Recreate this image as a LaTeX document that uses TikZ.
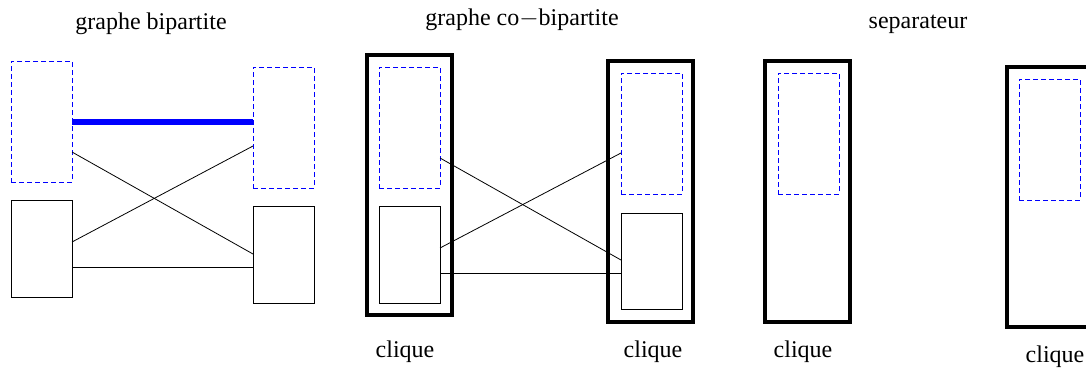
\documentclass[tikz,border=0pt]{standalone}
\usepackage{fontspec}
\setmainfont{Liberation Serif}
\begin{document}
\begin{tikzpicture}[x=1pt,y=-1pt,
  solidbox/.style={draw=black, line width=0.9pt, inner sep=0pt, outer sep=0pt, minimum width=61pt, anchor=north west},
  dashbox/.style={draw=blue, line width=0.9pt, dash pattern=on 5pt off 3pt, inner sep=0pt, outer sep=0pt, minimum width=61pt, minimum height=121pt, anchor=north west},
  cliquebox/.style={draw=black, line width=4pt, inner sep=0pt, outer sep=0pt, minimum width=85pt, anchor=north west},
  edge/.style={draw=black, line width=0.8pt},
  lab/.style={font=\fontsize{24}{26}\selectfont, inner sep=0pt},
]
\useasboundingbox (0,0) rectangle (1086,370);

% titles
\node[lab] (t1) at (151,24) {graphe bipartite};
\node[lab] (t2) at (522,20) {graphe co$-$bipartite};
\node[lab] (t3) at (918,24) {separateur};

% bipartite graph
\node[dashbox] (bA) at (11,61) {};
\node[dashbox] (bB) at (253,67) {};
\node[solidbox, minimum height=97pt] (bC) at (11,200) {};
\node[solidbox, minimum height=97pt] (bD) at (253,206) {};
\draw[blue, line width=6pt] ([yshift=-61pt]bA.north east) -- ([yshift=-55pt]bB.north west);
\draw[edge] ([yshift=-91pt]bA.north east) -- ([yshift=-48pt]bD.north west);
\draw[edge] ([yshift=-42pt]bC.north east) -- ([yshift=-79pt]bB.north west);
\draw[edge] ([yshift=-67pt]bC.north east) -- ([yshift=-61pt]bD.north west);

% co-bipartite graph
\node[cliquebox, minimum height=260pt] (cK1) at (367,55) {};
\node[cliquebox, minimum height=261pt] (cK2) at (608,61) {};
\node[dashbox] (cA) at (379,67) {};
\node[dashbox] (cB) at (621,73) {};
\node[solidbox, minimum height=97pt] (cC) at (379,206) {};
\node[solidbox, minimum height=96pt] (cD) at (621,213) {};
\draw[edge] ([yshift=-91pt]cA.north east) -- ([yshift=-47pt]cD.north west);
\draw[edge] ([yshift=-42pt]cC.north east) -- ([yshift=-80pt]cB.north west);
\draw[edge] ([yshift=-67pt]cC.north east) -- ([yshift=-60pt]cD.north west);
\node[lab] (q1) at (405,352) {clique};
\node[lab] (q2) at (653,352) {clique};

% separateur
\node[cliquebox, minimum height=261pt] (sK1) at (765,61) {};
\node[dashbox] (sA) at (778,73) {};
\node[cliquebox, minimum height=260pt] (sK2) at (1007,67) {};
\node[dashbox] (sB) at (1019,79) {};
\node[lab] (q3) at (803,352) {clique};
\node[lab] (q4) at (1055,357) {clique};
\end{tikzpicture}
\end{document}
